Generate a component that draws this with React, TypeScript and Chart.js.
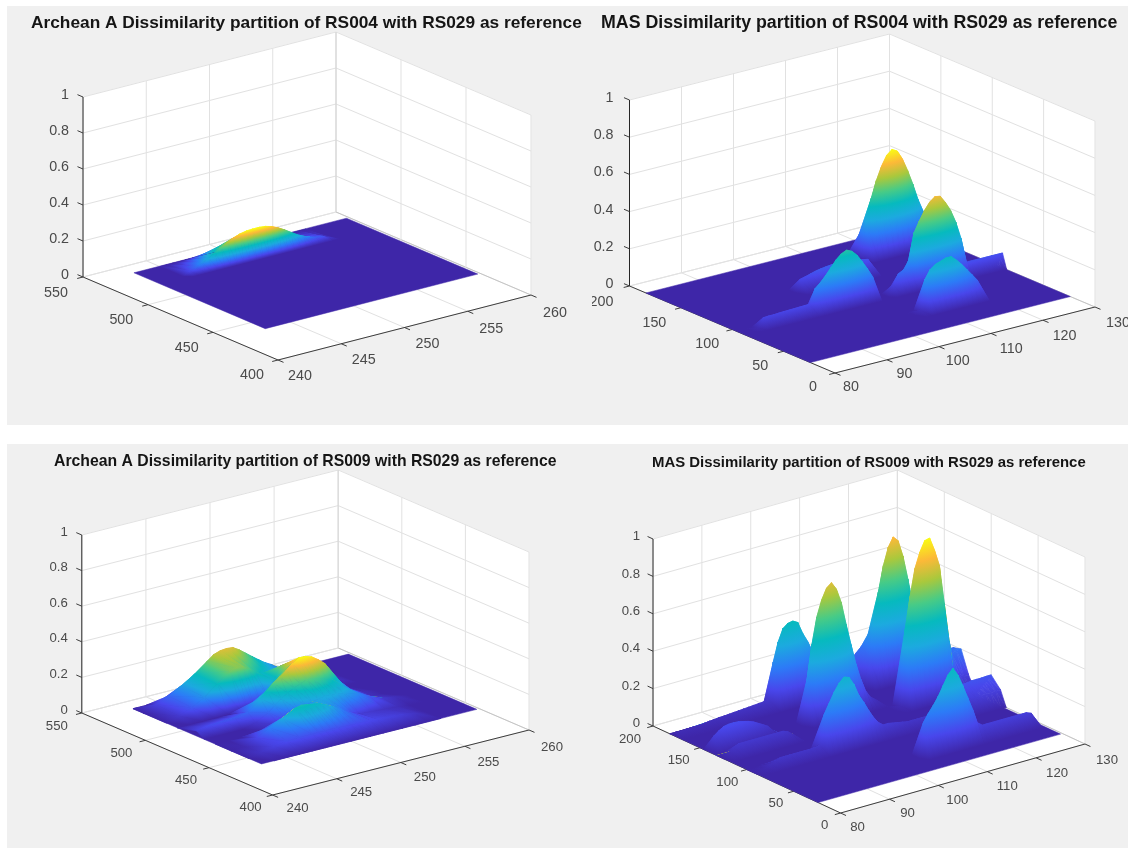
import { useEffect, useRef } from 'react';
import { Chart, registerables } from 'chart.js';

Chart.register(...registerables);

// ---------- shared tick values ----------
const zTicks = [0, 0.2, 0.4, 0.6, 0.8, 1];
const zTickLabels = ['0', '0.2', '0.4', '0.6', '0.8', '1'];
const archeanXTicks = [240, 245, 250, 255, 260];
const archeanYTicks = [400, 450, 500, 550];
const masXTicks = [80, 90, 100, 110, 120, 130];
const masYTicks = [0, 50, 100, 150, 200];

// ---------- titles ----------
const titleA004 = 'Archean A Dissimilarity partition of RS004 with RS029 as reference';
const titleM004 = 'MAS Dissimilarity partition of RS004 with RS029 as reference';
const titleA009 = 'Archean A Dissimilarity partition of RS009 with RS029 as reference';
const titleM009 = 'MAS Dissimilarity partition of RS009 with RS029 as reference';

// ---------- surface sample columns ----------
const a004X = [245, 245.5, 246, 246.5, 247, 247.5, 248, 248.5, 249, 249.5, 250, 250.5, 251, 251.5, 252, 252.5, 253, 253.5, 254, 254.5, 255, 255.5, 256, 256.5, 257];
const a009X = [243, 244, 245, 246, 247, 248, 248.5, 249, 249.5, 250, 250.5, 251, 251.5, 252, 252.5, 253, 254, 255, 256, 257, 258, 259, 259.8];
const masX = [80, 81, 82, 83, 84, 85, 86, 87, 88, 89, 90, 91, 92, 93, 94, 95, 96, 97, 98, 99, 100, 101, 102, 103, 104, 105, 106, 107, 108, 109, 110, 111, 112, 113, 114, 115, 116, 117, 118, 119, 120, 121, 122, 123, 124, 125, 126, 127, 128, 129, 130];

// ---------- surface extents ----------
const archeanSpanX = [243, 259.8];
const archeanSpanY = [439, 540];
const mas004SpanX = [80, 130];
const mas004SpanY = [24, 184];
const mas009SpanX = [80, 129.6];
const mas009SpanY = [24, 182];

// ---------- surface rows: [y, [[first x value, z values...]]] ----------
type Row = [number, [number, number[]][]];

const a004Rows: Row[] = [
  [518.5, []],
  [521.5, [[245, [0, 0.02, 0.035, 0.05, 0.067, 0.087, 0.107, 0.127, 0.144, 0.156, 0.163, 0.165, 0.165, 0.161, 0.151, 0.135, 0.115, 0.092, 0.07, 0.052, 0.039, 0.03, 0.025, 0.01, 0]]]],
  [539.5, []],
];

const a009Rows: Row[] = [
  [439, []],
  [449.5, [[243, [0, 0.015, 0.03, 0.04, 0.045, 0.045, 0.045, 0.045, 0.045, 0.045, 0.043, 0.04, 0.04, 0.04, 0.037, 0.035, 0.03, 0.025, 0.015, 0, 0, 0, 0]]]],
  [463, [[243, [0, 0.005, 0.035, 0.075, 0.11, 0.148, 0.155, 0.15, 0.144, 0.135, 0.118, 0.1, 0.08, 0.06, 0.04, 0.025, 0.02, 0.015, 0.01, 0, 0, 0, 0]]]],
  [475, [[243, [0, 0, 0, 0, 0.005, 0.02, 0.033, 0.05, 0.07, 0.09, 0.1, 0.11, 0.113, 0.115, 0.11, 0.105, 0.085, 0.05, 0.022, 0.01, 0, 0, 0]]]],
  [484, [[243, [0, 0, 0, 0, 0.02, 0.06, 0.09, 0.12, 0.14, 0.16, 0.175, 0.19, 0.188, 0.18, 0.165, 0.15, 0.09, 0.03, 0.01, 0, 0, 0, 0]]]],
  [490, [[243, [0.03, 0.04, 0.045, 0.05, 0.06, 0.12, 0.155, 0.19, 0.215, 0.24, 0.27, 0.294, 0.292, 0.28, 0.255, 0.225, 0.115, 0.04, 0.01, 0, 0, 0, 0]]]],
  [505, [[243, [0, 0, 0, 0, 0, 0, 0, 0, 0.02, 0.05, 0.13, 0.2, 0.205, 0.2, 0.16, 0.12, 0.06, 0.03, 0, 0, 0, 0, 0]]]],
  [514, [[243, [0, 0.02, 0.05, 0.09, 0.15, 0.2, 0.207, 0.205, 0.185, 0.16, 0.14, 0.125, 0.11, 0.095, 0.082, 0.07, 0.045, 0.03, 0.015, 0, 0, 0, 0]]]],
  [532, [[243, [0, 0.03, 0.06, 0.1, 0.145, 0.2, 0.228, 0.24, 0.244, 0.24, 0.218, 0.19, 0.162, 0.135, 0.11, 0.09, 0.042, 0.025, 0.01, 0, 0, 0, 0]]]],
  [540, []],
];

const m004Rows: Row[] = [
  [47, []],
  [54, [[107, [0.02, 0.18, 0.225, 0.245, 0.255, 0.265, 0.265, 0.24, 0.21, 0.175, 0.14, 0.104]]]],
  [60, []],
  [86, []],
  [90, [[83, [0.012, 0.058, 0.06, 0.06, 0.062, 0.063, 0.064, 0.065, 0.066, 0.067, 0.068, 0.145, 0.17, 0.2, 0.235, 0.27, 0.295, 0.308, 0.295, 0.267, 0.225, 0.18, 0.13, 0, 0, 0, 0.06, 0.11, 0.125, 0.17, 0.31, 0.365, 0.415, 0.453, 0.475, 0.47, 0.43, 0.38, 0.31, 0.215, 0.08, 0.08, 0.08, 0.08, 0.08, 0.08, 0.08, 0.08]]]],
  [96, []],
  [122, []],
  [130, [[99, [0.065, 0.072, 0.08, 0.088, 0.093, 0.097, 0.1, 0.102, 0.102, 0.1, 0.095, 0.09, 0.085, 0.08]]]],
  [136, []],
  [144, []],
  [152, [[116, [0.2, 0.32, 0.41, 0.48, 0.532, 0.555, 0.54, 0.49, 0.42, 0.34, 0.25, 0.18]]]],
  [165, []],
];

const m009Rows: Row[] = [
  [40, []],
  [47, [[106, [0.185, 0.225, 0.26, 0.3, 0.35, 0.4, 0.428, 0.385, 0.32, 0.25, 0.18, 0.1, 0.08, 0.08, 0.08, 0.08, 0.08, 0.08, 0.08, 0.08, 0.08, 0.08, 0.07]]]],
  [54, []],
  [84, []],
  [90, [[81, [0.008, 0.015, 0.03, 0.04, 0.05, 0.05, 0.05, 0.05, 0.05, 0.05, 0.05, 0.052, 0.06, 0.22, 0.27, 0.32, 0.36, 0.385, 0.375, 0.33, 0.265, 0.22, 0.17, 0.125, 0.09, 0.07, 0.07, 0.065, 0.06, 0.055, 0.05, 0.05, 0.05, 0.05, 0.05, 0.05, 0.05, 0.05, 0.05, 0.05, 0.055, 0.06, 0.065, 0.07, 0.075, 0.08, 0.08, 0.08, 0.08, 0.08]]]],
  [100, [[122, [0.1, 0.12, 0.13, 0.13, 0.135, 0.135, 0.135, 0.137, 0.137]]]],
  [116, []],
  [124, [[81, [0.03, 0.05, 0.06, 0.06, 0.06, 0.06, 0.06, 0.06, 0.06, 0.06, 0.06, 0.06, 0.05, 0.03]], [116, [0.02, 0.42, 0.588, 0.73, 0.81, 0.865, 0.872, 0.8, 0.71, 0.5, 0.29, 0.13, 0.1, 0.08, 0.08]]]],
  [132, [[127, [0.15, 0.19, 0.2, 0.2]]]],
  [140, [[80, [0.01, 0.08, 0.1, 0.115, 0.12, 0.12, 0.118, 0.112, 0.105, 0.095, 0.08, 0.065, 0.05, 0.02]], [100, [0.24, 0.42, 0.56, 0.644, 0.7, 0.721, 0.68, 0.6, 0.475, 0.36, 0.25, 0.16, 0.09, 0.05, 0.03]], [128, [0.18, 0.19, 0.19]]]],
  [146, []],
  [160, []],
  [168, [[118, [0.16, 0.33, 0.5, 0.63, 0.72, 0.768, 0.74, 0.65, 0.52, 0.38, 0.25, 0.1]]]],
  [176, [[80, [0.015, 0.02, 0.02, 0.022, 0.024, 0.025, 0.027, 0.03, 0.032, 0.035, 0.036, 0.038, 0.04, 0.042, 0.044, 0.046, 0.048, 0.05, 0.052, 0.06, 0.25, 0.35, 0.415, 0.435, 0.44, 0.425, 0.36, 0.31, 0.25, 0.15, 0.06, 0.03, 0.02]], [114, [0.08, 0.12, 0.15, 0.175, 0.2, 0.215, 0.225, 0.22, 0.22, 0.21, 0.2, 0.19, 0.15, 0.1]]]],
  [182, []],
];

// ---------- parula colour map ----------
const parulaStops: [number, string][] = [
  [0, '#3e26a8'], [0.125, '#4847ec'], [0.25, '#2c7bf7'], [0.375, '#1caadf'], [0.5, '#06babe'],
  [0.625, '#48cb86'], [0.75, '#aac83c'], [0.875, '#fcb938'], [1, '#f9fb14'],
];

type Pt = [number, number];
interface Panel {
  box: [number, number, number, number];
  title: string; titleX: number; titleY: number; titleW: number;
  O: Pt; Ex: Pt; Ey: Pt; Ez: number;
  xTicks: number[]; yTicks: number[];
  spanX: number[]; spanY: number[];
  cols: number[]; rows: Row[];
  font: number;
  xOff: [Pt, Pt]; yOff: [Pt, Pt]; zOff: Pt;
}

const panels: Panel[] = [
  {
    box: [0, 0, 592, 430], title: titleA004, titleX: 31, titleY: 23, titleW: 551,
    O: [278, 360], Ex: [253, -65], Ey: [-195, -83], Ez: 180,
    xTicks: archeanXTicks, yTicks: archeanYTicks, spanX: archeanSpanX, spanY: archeanSpanY,
    cols: a004X, rows: a004Rows, font: 14.3,
    xOff: [[22, 16], [24, 18]], yOff: [[-26, 15], [-27, 16]], zOff: [-14, -2],
  },
  {
    box: [592, 0, 536, 430], title: titleM004, titleX: 601, titleY: 23, titleW: 517,
    O: [835, 373], Ex: [260, -66], Ey: [-205.5, -87], Ez: 186,
    xTicks: masXTicks, yTicks: masYTicks, spanX: mas004SpanX, spanY: mas004SpanY,
    cols: masX, rows: m004Rows, font: 14.3,
    xOff: [[16, 14], [23, 16]], yOff: [[-22, 14], [-28, 16]], zOff: [-16, -2],
  },
  {
    box: [0, 430, 592, 418], title: titleA009, titleX: 54, titleY: 462, titleW: 503,
    O: [272.6, 795], Ex: [256.4, -65], Ey: [-190.8, -82], Ez: 178,
    xTicks: archeanXTicks, yTicks: archeanYTicks, spanX: archeanSpanX, spanY: archeanSpanY,
    cols: a009X, rows: a009Rows, font: 13.2,
    xOff: [[25, 13], [23, 17]], yOff: [[-22, 12], [-25, 13]], zOff: [-14, -3],
  },
  {
    box: [592, 430, 536, 418], title: titleM009, titleX: 652, titleY: 463, titleW: 434,
    O: [840.6, 813], Ex: [244.4, -69], Ey: [-187.6, -87], Ez: 187,
    xTicks: masXTicks, yTicks: masYTicks, spanX: mas009SpanX, spanY: mas009SpanY,
    cols: masX, rows: m009Rows, font: 13.2,
    xOff: [[17, 14], [22, 16]], yOff: [[-16, 12], [-23, 13]], zOff: [-13, -2.5],
  },
];

function parulaAt(t: number): string {
  const v = Math.max(0, Math.min(1, t));
  for (let i = 1; i < parulaStops.length; i++) {
    if (v <= parulaStops[i][0]) {
      const [t0, c0] = parulaStops[i - 1];
      const [t1, c1] = parulaStops[i];
      const f = (v - t0) / (t1 - t0);
      const ch = (s: string, k: number) => parseInt(s.substr(1 + k * 2, 2), 16);
      const m = [0, 1, 2].map((k) => Math.round(ch(c0, k) + (ch(c1, k) - ch(c0, k)) * f));
      return `rgb(${m[0]},${m[1]},${m[2]})`;
    }
  }
  return parulaStops[parulaStops.length - 1][1];
}

function buildDatasets(p: Panel) {
  const xMin = p.xTicks[0], xMax = p.xTicks[p.xTicks.length - 1];
  const yMin = p.yTicks[0], yMax = p.yTicks[p.yTicks.length - 1];
  const proj = (x: number, y: number, z: number) => {
    const a = (x - xMin) / (xMax - xMin);
    const b = (y - yMin) / (yMax - yMin);
    return {
      x: p.O[0] + a * p.Ex[0] + b * p.Ey[0],
      y: p.O[1] + a * p.Ex[1] + b * p.Ey[1] - z * p.Ez,
    };
  };
  const ds: any[] = [];
  const line = (pts: { x: number; y: number }[], color: string, width = 1) =>
    ds.push({ data: pts, showLine: true, borderColor: color, borderWidth: width, fill: false, pointRadius: 0 });
  const poly = (pts: { x: number; y: number }[], color: string) =>
    ds.push({ data: pts, showLine: true, borderColor: color, borderWidth: 0.5, backgroundColor: color, fill: 'shape', pointRadius: 0 });

  // white walls and floor
  poly([proj(xMin, yMin, 0), proj(xMax, yMin, 0), proj(xMax, yMax, 0), proj(xMin, yMax, 0), proj(xMin, yMin, 0)], '#ffffff');
  poly([proj(xMin, yMax, 0), proj(xMax, yMax, 0), proj(xMax, yMax, 1), proj(xMin, yMax, 1), proj(xMin, yMax, 0)], '#ffffff');
  poly([proj(xMax, yMax, 0), proj(xMax, yMin, 0), proj(xMax, yMin, 1), proj(xMax, yMax, 1), proj(xMax, yMax, 0)], '#ffffff');

  // grid
  const grid = '#e1e1e1';
  zTicks.forEach((z) => {
    line([proj(xMin, yMax, z), proj(xMax, yMax, z), proj(xMax, yMin, z)], grid);
  });
  p.xTicks.forEach((x) => {
    line([proj(x, yMin, 0), proj(x, yMax, 0), proj(x, yMax, 1)], x === xMax ? '#c4c4c4' : grid);
  });
  p.yTicks.forEach((y) => {
    line([proj(xMin, y, 0), proj(xMax, y, 0), proj(xMax, y, 1)], grid);
  });

  // axes and ticks
  const axis = '#3c3c3c';
  line([proj(xMin, yMin, 0), proj(xMax, yMin, 0)], axis);
  line([proj(xMin, yMin, 0), proj(xMin, yMax, 0)], axis);
  line([proj(xMin, yMax, 0), proj(xMin, yMax, 1)], '#262626');
  const unit = (v: Pt, s: number): Pt => {
    const l = Math.hypot(v[0], v[1]);
    return [(v[0] / l) * s, (v[1] / l) * s];
  };
  const xt = unit([-p.Ey[0], -p.Ey[1]], 6);
  const yt = unit([-p.Ex[0], -p.Ex[1]], 6);
  const zt = unit([p.Ey[0], p.Ey[1]], 6);
  p.xTicks.forEach((x) => {
    const a = proj(x, yMin, 0);
    line([a, { x: a.x + xt[0], y: a.y + xt[1] }], axis);
  });
  p.yTicks.forEach((y) => {
    const a = proj(xMin, y, 0);
    line([a, { x: a.x + yt[0], y: a.y + yt[1] }], axis);
  });
  zTicks.forEach((z) => {
    const a = proj(xMin, yMax, z);
    line([a, { x: a.x + zt[0], y: a.y + zt[1] }], axis);
  });

  // floor of the surface
  const { spanX, spanY } = p;
  poly(
    [proj(spanX[0], spanY[0], 0), proj(spanX[1], spanY[0], 0), proj(spanX[1], spanY[1], 0), proj(spanX[0], spanY[1], 0), proj(spanX[0], spanY[0], 0)],
    parulaAt(0),
  );

  // surface: expand the sparse rows and paint back to front
  const cols = p.cols;
  const zs = p.rows.map((r) => {
    const out = cols.map(() => 0);
    r[1].forEach(([first, vals]) => {
      const s = cols.indexOf(first);
      vals.forEach((v, i) => { out[s + i] = v; });
    });
    return out;
  });
  const zMax = Math.max(...zs.map((r) => Math.max(...r)));

  const tri = (v: [number, number, number][]) => {
    if (v.every((q) => q[2] === 0)) return;
    const pts = v.map((q) => proj(q[0], q[1], q[2]));
    const closed = [...pts, pts[0]];
    const avg = (v[0][2] + v[1][2] + v[2][2]) / 3;
    let cache: any = null;
    const paint = (c: any) => {
      if (cache) return cache;
      const sx = c.chart.scales.x, sy = c.chart.scales.y;
      const flat = parulaAt(avg / zMax);
      if (!sx || !sy || !c.chart.chartArea) return flat;
      const px = pts.map((q) => [sx.getPixelForValue(q.x), sy.getPixelForValue(q.y)]);
      if (px.some((q) => !Number.isFinite(q[0]) || !Number.isFinite(q[1]))) return flat;
      const d1 = [px[1][0] - px[0][0], px[1][1] - px[0][1]];
      const d2 = [px[2][0] - px[0][0], px[2][1] - px[0][1]];
      const dz1 = v[1][2] - v[0][2], dz2 = v[2][2] - v[0][2];
      const det = d1[0] * d2[1] - d1[1] * d2[0];
      if (Math.abs(det) < 1e-6) { cache = flat; return cache; }
      const gx = (dz1 * d2[1] - dz2 * d1[1]) / det;
      const gy = (d1[0] * dz2 - d2[0] * dz1) / det;
      const g2 = gx * gx + gy * gy;
      if (g2 < 1e-12) { cache = flat; return cache; }
      const k0 = (0 - v[0][2]) / g2, k1 = (zMax - v[0][2]) / g2;
      const grad = c.chart.ctx.createLinearGradient(
        px[0][0] + gx * k0, px[0][1] + gy * k0, px[0][0] + gx * k1, px[0][1] + gy * k1,
      );
      parulaStops.forEach(([t, col]) => grad.addColorStop(t, col));
      cache = grad;
      return cache;
    };
    ds.push({ data: closed, showLine: true, borderColor: paint, backgroundColor: paint, borderWidth: 0.7, fill: 'shape', pointRadius: 0 });
  };

  for (let i = p.rows.length - 2; i >= 0; i--) {
    const y0 = p.rows[i][0], y1 = p.rows[i + 1][0];
    for (let j = cols.length - 2; j >= 0; j--) {
      const x0 = cols[j], x1 = cols[j + 1];
      const a: [number, number, number] = [x0, y0, zs[i][j]];
      const b: [number, number, number] = [x1, y0, zs[i][j + 1]];
      const c: [number, number, number] = [x0, y1, zs[i + 1][j]];
      const d: [number, number, number] = [x1, y1, zs[i + 1][j + 1]];
      tri([c, d, b]);
      tri([c, b, a]);
    }
  }
  return ds.reverse();
}

function PanelChart({ p }: { p: Panel }) {
  const ref = useRef<HTMLCanvasElement | null>(null);
  useEffect(() => {
    const canvas = ref.current;
    if (!canvas) return;
    const [left, top, w, h] = p.box;
    const xMin = p.xTicks[0], xMax = p.xTicks[p.xTicks.length - 1];
    const yMin = p.yTicks[0], yMax = p.yTicks[p.yTicks.length - 1];
    const textPlugin = {
      id: 'panelText',
      afterDraw(chart: any) {
        const ctx = chart.ctx;
        const sx = chart.scales.x, sy = chart.scales.y;
        const px = (x: number) => sx.getPixelForValue(x);
        const py = (y: number) => sy.getPixelForValue(y);
        ctx.save();
        ctx.textBaseline = 'middle';
        ctx.font = 'bold 100px "Liberation Sans", Arial, sans-serif';
        const size = (100 * p.titleW) / ctx.measureText(p.title).width;
        ctx.font = `bold ${size}px "Liberation Sans", Arial, sans-serif`;
        ctx.fillStyle = '#151515';
        ctx.textAlign = 'left';
        ctx.fillText(p.title, px(p.titleX), py(p.titleY));

        ctx.font = `${p.font}px "Liberation Sans", Arial, sans-serif`;
        ctx.fillStyle = '#4a4a4a';
        ctx.textAlign = 'center';
        p.xTicks.forEach((x, i) => {
          const a = (x - xMin) / (xMax - xMin);
          const f = i / (p.xTicks.length - 1);
          const ox = p.xOff[0][0] + (p.xOff[1][0] - p.xOff[0][0]) * f;
          const oy = p.xOff[0][1] + (p.xOff[1][1] - p.xOff[0][1]) * f;
          ctx.fillText(String(x), px(p.O[0] + a * p.Ex[0] + ox), py(p.O[1] + a * p.Ex[1] + oy));
        });
        p.yTicks.forEach((y, i) => {
          const b = (y - yMin) / (yMax - yMin);
          const f = i / (p.yTicks.length - 1);
          const ox = p.yOff[0][0] + (p.yOff[1][0] - p.yOff[0][0]) * f;
          const oy = p.yOff[0][1] + (p.yOff[1][1] - p.yOff[0][1]) * f;
          ctx.fillText(String(y), px(p.O[0] + b * p.Ey[0] + ox), py(p.O[1] + b * p.Ey[1] + oy));
        });
        ctx.textAlign = 'right';
        zTicks.forEach((z, i) => {
          const ax = p.O[0] + p.Ey[0];
          const ay = p.O[1] + p.Ey[1] - z * p.Ez;
          ctx.fillText(zTickLabels[i], px(ax + p.zOff[0]), py(ay + p.zOff[1]));
        });
        ctx.restore();
      },
    };
    const chart = new Chart(canvas, {
      type: 'scatter',
      data: { datasets: buildDatasets(p) },
      plugins: [textPlugin],
      options: {
        animation: false,
        responsive: false,
        events: [],
        layout: { padding: 0 },
        elements: { point: { radius: 0 }, line: { tension: 0 } },
        plugins: { legend: { display: false }, title: { display: false }, tooltip: { enabled: false } },
        scales: {
          x: { type: 'linear', display: false, min: left, max: left + w },
          y: { type: 'linear', display: false, min: top, max: top + h, reverse: true },
        },
      },
    } as any);
    return () => chart.destroy();
  }, [p]);
  return (
    <canvas
      ref={ref}
      width={p.box[2]}
      height={p.box[3]}
      style={{ position: 'absolute', left: p.box[0], top: p.box[1], width: p.box[2], height: p.box[3], display: 'block' }}
    />
  );
}

export default function App() {
  return (
    <div style={{ position: 'absolute', left: 0, top: 0, width: 1128, height: 848, overflow: 'hidden', background: '#ffffff' }}>
      <div style={{ position: 'absolute', left: 7, top: 6, width: 1121, height: 419, background: '#f0f0f0' }} />
      <div style={{ position: 'absolute', left: 7, top: 444, width: 1121, height: 404, background: '#f0f0f0' }} />
      {panels.map((p) => (
        <PanelChart key={p.title} p={p} />
      ))}
    </div>
  );
}
